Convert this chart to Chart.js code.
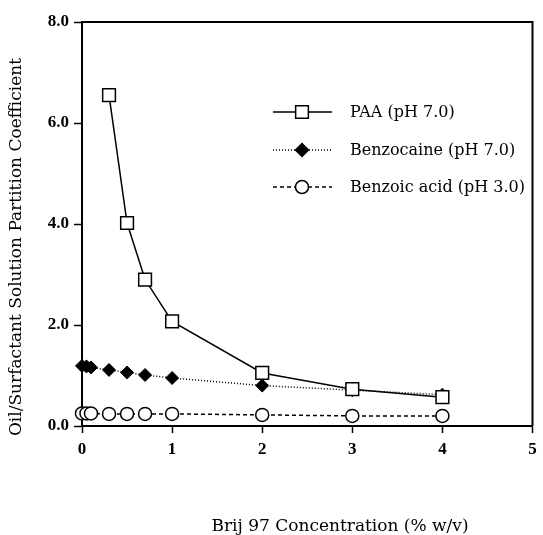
<!DOCTYPE html>
<html>
<head>
<meta charset="utf-8">
<script src="https://cdn.jsdelivr.net/npm/chart.js@4.4.1/dist/chart.umd.min.js"></script>
<style>
  html, body { margin: 0; padding: 0; background: #fff; overflow: hidden; }
  canvas { display: block; }
</style>
</head>
<body>
<canvas id="chart" width="543" height="535" style="width:543px;height:535px"></canvas>
<script>
// Brij 97 concentration (% w/v) and partition coefficients
const paaX = [0.3, 0.5, 0.7, 1, 2, 3, 4];
const paaY = [6.55, 4.02, 2.9, 2.07, 1.05, 0.73, 0.57];
const benzocaineX = [0, 0.05, 0.1, 0.3, 0.5, 0.7, 1, 2, 3, 4];
const benzocaineY = [1.19, 1.18, 1.16, 1.11, 1.06, 1.01, 0.95, 0.8, 0.71, 0.62];
const benzoicX = [0, 0.05, 0.1, 0.3, 0.5, 0.7, 1, 2, 3, 4];
const benzoicY = [0.25, 0.25, 0.25, 0.24, 0.24, 0.24, 0.24, 0.22, 0.2, 0.2];
const seriesLabels = ['PAA (pH 7.0)', 'Benzocaine (pH 7.0)', 'Benzoic acid (pH 3.0)'];
const xTitle = 'Brij 97 Concentration (% w/v)';
const yTitle = 'Oil/Surfactant Solution Partition Coefficient';

const serif = "'DejaVu Serif', serif";
const tickFont = { family: "'Liberation Serif', serif", size: 17, weight: 'bold' };

function pts(xs, ys) {
    return xs.map((x, i) => ({ x: x, y: ys[i] }));
}

// cadre haut/droite, titres des axes et légende dans la zone du graphique
const extras = {
    id: 'extras',
    afterDraw(chart) {
        const ctx = chart.ctx;
        const a = chart.chartArea;
        ctx.save();
        ctx.strokeStyle = '#000';
        ctx.lineWidth = 2;
        ctx.beginPath();
        ctx.moveTo(a.left, a.top);
        ctx.lineTo(a.right, a.top);
        ctx.lineTo(a.right, a.bottom);
        ctx.stroke();

        ctx.fillStyle = '#000';
        ctx.font = '17px ' + serif;
        ctx.textAlign = 'center';
        ctx.textBaseline = 'middle';
        ctx.fillText(xTitle, 340, 527);

        ctx.translate(17, 247);
        ctx.rotate(-Math.PI / 2);
        ctx.fillText(yTitle, 0, 0);
        ctx.restore();

        // légende
        const rows = [112, 150, 187];
        chart.data.datasets.forEach((ds, i) => {
            const y = rows[i];
            ctx.save();
            ctx.strokeStyle = '#000';
            ctx.lineWidth = ds.borderWidth;
            ctx.setLineDash(ds.borderDash || []);
            ctx.beginPath();
            ctx.moveTo(273, y);
            ctx.lineTo(332, y);
            ctx.stroke();
            ctx.setLineDash([]);
            ctx.fillStyle = ds.pointBackgroundColor;
            ctx.strokeStyle = '#000';
            ctx.lineWidth = 1.5;
            Chart.helpers.drawPoint(ctx, {
                pointStyle: ds.pointStyle, radius: ds.pointRadius,
                borderWidth: 1.5, rotation: 0
            }, 302, y);
            ctx.fillStyle = '#000';
            ctx.font = '16px ' + serif;
            ctx.textAlign = 'left';
            ctx.textBaseline = 'middle';
            ctx.fillText(ds.label, 350, y + 1);
            ctx.restore();
        });
    }
};

const ctx = document.getElementById('chart').getContext('2d');
new Chart(ctx, {
    type: 'line',
    data: {
        datasets: [
            {
                label: seriesLabels[0],
                data: pts(paaX, paaY),
                borderColor: '#000', borderWidth: 1.5,
                pointStyle: 'rect', pointRadius: 9,
                pointBackgroundColor: '#fff', pointBorderColor: '#000', pointBorderWidth: 1.5,
                clip: false
            },
            {
                label: seriesLabels[1],
                data: pts(benzocaineX, benzocaineY),
                borderColor: '#000', borderWidth: 1.5, borderDash: [1, 2],
                pointStyle: 'rectRot', pointRadius: 6.5,
                pointBackgroundColor: '#000', pointBorderColor: '#000', pointBorderWidth: 1,
                clip: false
            },
            {
                label: seriesLabels[2],
                data: pts(benzoicX, benzoicY),
                borderColor: '#000', borderWidth: 1.5, borderDash: [4, 3],
                pointStyle: 'circle', pointRadius: 6.5,
                pointBackgroundColor: '#fff', pointBorderColor: '#000', pointBorderWidth: 1.5,
                clip: false
            }
        ]
    },
    options: {
        responsive: false,
        animation: false,
        events: [],
        layout: { padding: { top: 22, right: 1, bottom: 0, left: 0 } },
        plugins: {
            legend: { display: false },
            tooltip: { enabled: false }
        },
        scales: {
            x: {
                type: 'linear',
                min: 0, max: 5,
                border: { color: '#000', width: 2 },
                grid: { drawOnChartArea: false, color: '#000', tickLength: 7, tickWidth: 1.5 },
                ticks: { stepSize: 1, color: '#000', font: tickFont, padding: 6,
                         callback: v => String(v) },
                // le "5" déborde à droite comme sur l'original
                afterFit: s => { s.height = 109; s.paddingRight = 0; s.paddingLeft = 0; }
            },
            y: {
                type: 'linear',
                min: 0, max: 8,
                border: { color: '#000', width: 2 },
                grid: { drawOnChartArea: false, color: '#000', tickLength: 8, tickWidth: 1.5 },
                ticks: { stepSize: 2, color: '#000', font: tickFont, padding: 5,
                         callback: v => v.toFixed(1) },
                afterFit: s => { s.width = 82; }
            }
        }
    },
    plugins: [extras]
});
</script>
</body>
</html>
